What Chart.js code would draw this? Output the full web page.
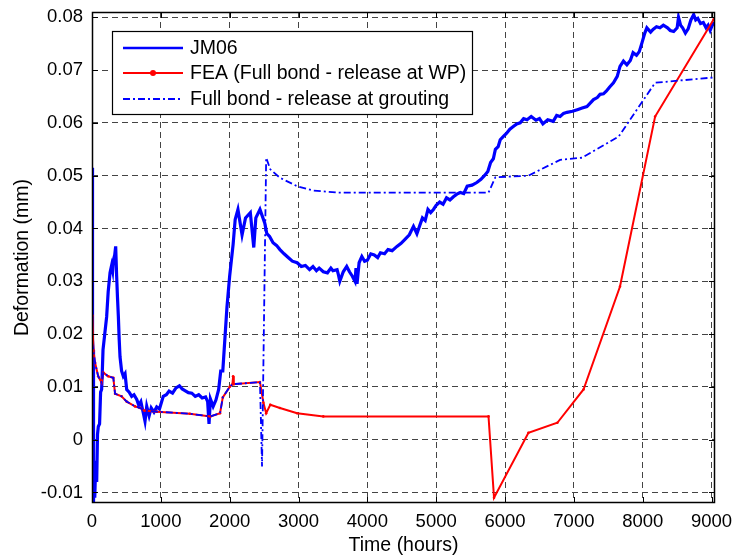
<!DOCTYPE html>
<html>
<head>
<meta charset="utf-8">
<script src="https://cdn.jsdelivr.net/npm/chart.js@4.4.0/dist/chart.umd.min.js"></script>
<style>body{margin:0;background:#fff}</style>
</head>
<body>
<canvas id="chart" width="732" height="557"></canvas>
<script>
const xTicks = [0, 1000, 2000, 3000, 4000, 5000, 6000, 7000, 8000, 9000];
const yTicks = [-0.01, 0, 0.01, 0.02, 0.03, 0.04, 0.05, 0.06, 0.07, 0.08];
const yTickLabels = ['-0.01', '0', '0.01', '0.02', '0.03', '0.04', '0.05', '0.06', '0.07', '0.08'];
const seriesNames = ['JM06', 'FEA (Full bond - release at WP)', 'Full bond - release at grouting'];

const jmHours = [0, 5, 10, 15, 22, 30, 40, 55, 68, 80, 92, 110, 125, 140, 150, 160, 185, 213, 235, 262, 285, 300, 310, 330, 344, 358, 370, 383, 395, 407, 430, 455, 480, 504, 540, 577, 610, 650, 680, 710, 746, 770, 795, 830, 860, 900, 940, 980, 1035, 1080, 1120, 1170, 1220, 1270, 1310, 1350, 1400, 1450, 1500, 1550, 1600, 1650, 1680, 1700, 1720, 1760, 1800, 1840, 1870, 1900, 1960, 2000, 2050, 2080, 2120, 2180, 2230, 2300, 2350, 2380, 2440, 2510, 2540, 2580, 2630, 2680, 2730, 2790, 2850, 2910, 2980, 3040, 3100, 3160, 3210, 3260, 3300, 3360, 3420, 3470, 3500, 3560, 3580, 3600, 3650, 3700, 3740, 3780, 3820, 3835, 3850, 3880, 3920, 3960, 4000, 4050, 4100, 4150, 4190, 4250, 4300, 4360, 4430, 4490, 4550, 4610, 4670, 4720, 4760, 4800, 4840, 4880, 4920, 4960, 5000, 5050, 5100, 5150, 5200, 5250, 5300, 5350, 5400, 5450, 5520, 5590, 5650, 5700, 5750, 5790, 5830, 5860, 5900, 5930, 5980, 6020, 6070, 6120, 6170, 6220, 6270, 6320, 6380, 6450, 6500, 6550, 6620, 6700, 6750, 6800, 6850, 6900, 6980, 7050, 7120, 7190, 7285, 7340, 7380, 7430, 7470, 7520, 7575, 7630, 7670, 7720, 7770, 7820, 7860, 7910, 7950, 7990, 8030, 8060, 8115, 8150, 8200, 8250, 8300, 8360, 8400, 8450, 8500, 8520, 8550, 8580, 8620, 8660, 8700, 8740, 8770, 8800, 8840, 8880, 8920, 8950, 8980, 9010, 9040];
const jmDef = [0.0515, -0.012, 0.019, 0.017, -0.012, -0.005, -0.011, -0.004, -0.008, 0.001, 0.0025, 0.003, 0.009, 0.0095, 0.013, 0.017, 0.020, 0.0233, 0.028, 0.0316, 0.033, 0.032, 0.034, 0.035, 0.0366, 0.031, 0.027, 0.0233, 0.019, 0.0157, 0.013, 0.012, 0.0125, 0.0095, 0.009, 0.0082, 0.0085, 0.0076, 0.0065, 0.0072, 0.005, 0.0035, 0.0063, 0.0045, 0.006, 0.0052, 0.0062, 0.0058, 0.0082, 0.0085, 0.0092, 0.0088, 0.0098, 0.0102, 0.0096, 0.0093, 0.0089, 0.0088, 0.0082, 0.0085, 0.0079, 0.0081, 0.0072, 0.003, 0.0077, 0.0063, 0.0075, 0.0095, 0.013, 0.013, 0.025, 0.031, 0.037, 0.0417, 0.0436, 0.0388, 0.042, 0.043, 0.0364, 0.042, 0.0436, 0.041, 0.039, 0.0385, 0.0373, 0.0368, 0.036, 0.0352, 0.0345, 0.0338, 0.0335, 0.0328, 0.033, 0.0322, 0.0328, 0.032, 0.0325, 0.0318, 0.0316, 0.0325, 0.032, 0.0322, 0.0312, 0.030, 0.0318, 0.0328, 0.0318, 0.031, 0.030, 0.0325, 0.0295, 0.0335, 0.0347, 0.0338, 0.034, 0.0352, 0.035, 0.0345, 0.0354, 0.0352, 0.036, 0.0358, 0.0366, 0.0372, 0.038, 0.0388, 0.0404, 0.039, 0.0405, 0.042, 0.0415, 0.0436, 0.043, 0.0436, 0.0444, 0.045, 0.0446, 0.0458, 0.0454, 0.046, 0.0465, 0.0468, 0.0466, 0.048, 0.0482, 0.0487, 0.0493, 0.050, 0.0508, 0.0525, 0.0532, 0.055, 0.0555, 0.0568, 0.0575, 0.058, 0.0588, 0.0593, 0.0598, 0.060, 0.0608, 0.0606, 0.0612, 0.0605, 0.0608, 0.0598, 0.0606, 0.0603, 0.0614, 0.0612, 0.0618, 0.062, 0.0622, 0.0625, 0.0628, 0.0631, 0.0644, 0.0648, 0.0654, 0.0655, 0.066, 0.0668, 0.0676, 0.0688, 0.0707, 0.0717, 0.071, 0.0718, 0.0733, 0.0728, 0.0735, 0.0752, 0.077, 0.078, 0.0772, 0.0777, 0.0782, 0.078, 0.0785, 0.078, 0.0775, 0.0773, 0.078, 0.080, 0.0785, 0.078, 0.077, 0.0778, 0.0795, 0.0805, 0.0795, 0.0798, 0.0788, 0.079, 0.078, 0.0785, 0.0775, 0.0785, 0.079];

// FEA, full bond - release at WP
const feaHours = [0, 5, 20, 44, 90, 140, 165, 235, 310, 335, 430, 504, 625, 700, 760, 940, 1420, 1720, 1860, 1900, 2000, 2040, 2050, 2060, 2440, 2490, 2530, 2590, 2730, 2980, 3360, 5760, 5840, 6340, 6760, 7140, 7670, 8180, 9030];
const feaDef = [0.0184, 0.0235, 0.017, 0.0146, 0.012, 0.0108, 0.0127, 0.012, 0.0117, 0.0087, 0.0082, 0.0072, 0.0063, 0.006, 0.0055, 0.0053, 0.0049, 0.0044, 0.005, 0.008, 0.010, 0.0105, 0.012, 0.0105, 0.0109, 0.007, 0.005, 0.0066, 0.006, 0.005, 0.0044, 0.0044, -0.011, 0.0013, 0.0032, 0.0095, 0.029, 0.0612, 0.0796];

// Full bond - release at grouting
const groutHours = [0, 20, 44, 90, 140, 165, 235, 310, 335, 430, 504, 625, 700, 760, 940, 1420, 1720, 1860, 1900, 2000, 2040, 2440, 2470, 2530, 2590, 2730, 2980, 3210, 3560, 5760, 5860, 6340, 6800, 7120, 7650, 8180, 9030];
const groutDef = [0.0184, 0.017, 0.0146, 0.012, 0.0108, 0.0127, 0.012, 0.0117, 0.0087, 0.0082, 0.0072, 0.0063, 0.006, 0.0055, 0.0053, 0.0049, 0.0044, 0.005, 0.008, 0.010, 0.0105, 0.0109, -0.0051, 0.0534, 0.0512, 0.0496, 0.048, 0.0472, 0.0468, 0.0468, 0.0497, 0.050, 0.053, 0.0534, 0.0574, 0.0676, 0.0686];

const pts = (xs, ys) => xs.map((x, i) => ({ x: x, y: ys[i] }));
const FONT = '"Liberation Sans", Arial, sans-serif';

const framePlugin = {
    id: 'frame',
    afterDraw(chart) {
        const ctx = chart.ctx;
        const a = chart.chartArea;
        const xs = chart.scales.x, ys = chart.scales.y;
        ctx.save();
        ctx.strokeStyle = '#000';
        ctx.lineWidth = 1;
        ctx.beginPath();
        xTicks.forEach(v => {
            const p = Math.round(xs.getPixelForValue(v)) + 0.5;
            ctx.moveTo(p, a.bottom); ctx.lineTo(p, a.bottom - 6);
            ctx.moveTo(p, a.top); ctx.lineTo(p, a.top + 6);
        });
        yTicks.forEach(v => {
            const p = Math.round(ys.getPixelForValue(v)) + 0.5;
            ctx.moveTo(a.left, p); ctx.lineTo(a.left + 6, p);
            ctx.moveTo(a.right, p); ctx.lineTo(a.right - 6, p);
        });
        ctx.stroke();
        ctx.lineWidth = 1.5;
        ctx.strokeRect(a.left + 0.5, a.top + 0.5, a.right - a.left - 1, a.bottom - a.top - 1);

        // legend box
        const bx = 112, by = 31, bw = 361, bh = 84;
        ctx.lineWidth = 1.2;
        ctx.fillStyle = '#fff';
        ctx.fillRect(bx, by, bw, bh);
        ctx.strokeRect(bx + 0.5, by + 0.5, bw - 1, bh - 1);
        const rows = [48, 73, 99];
        const styles = [
            { c: '#0000ff', w: 2.5, d: [] },
            { c: '#ff0000', w: 2, d: [] },
            { c: '#0000ff', w: 1.8, d: [7, 3, 2, 3] }
        ];
        rows.forEach((ry, i) => {
            ctx.strokeStyle = styles[i].c;
            ctx.lineWidth = styles[i].w;
            ctx.setLineDash(styles[i].d);
            ctx.beginPath();
            ctx.moveTo(123, ry); ctx.lineTo(183, ry);
            ctx.stroke();
            ctx.setLineDash([]);
            if (i === 1) {
                ctx.fillStyle = '#ff0000';
                ctx.beginPath(); ctx.arc(153, ry, 3, 0, Math.PI * 2); ctx.fill();
            }
            ctx.fillStyle = '#000';
            ctx.font = '19.5px ' + FONT;
            ctx.textBaseline = 'middle';
            ctx.fillText(seriesNames[i], 190, ry + 1);
        });
        ctx.restore();
    }
};

new Chart(document.getElementById('chart').getContext('2d'), {
    type: 'scatter',
    data: {
        datasets: [
            { label: seriesNames[0], data: pts(jmHours, jmDef), showLine: true, borderColor: '#0000ff', borderWidth: 3.2, pointRadius: 0, order: 3 },
            { label: seriesNames[1], data: pts(feaHours, feaDef), showLine: true, borderColor: '#ff0000', backgroundColor: '#ff0000', borderWidth: 2, pointRadius: 1.3, pointBorderWidth: 0, order: 2 },
            { label: seriesNames[2], data: pts(groutHours, groutDef), showLine: true, borderColor: '#0000ff', borderWidth: 1.8, borderDash: [7, 3, 2, 3], pointRadius: 0, order: 1 }
        ]
    },
    options: {
        responsive: false,
        animation: false,
        layout: { padding: { top: 12, right: 17, left: 0, bottom: 0 } },
        plugins: { legend: { display: false }, tooltip: { enabled: false } },
        scales: {
            x: {
                type: 'linear', min: 0, max: 9050,
                afterBuildTicks: s => { s.ticks = xTicks.map(v => ({ value: v })); },
                afterFit: s => { s.height = 54; s.paddingLeft = 0; s.paddingRight = 0; },
                ticks: { padding: 8, color: '#000', font: { family: FONT, size: 18.5 }, callback: v => String(v), maxRotation: 0 },
                grid: { color: '#444', lineWidth: 1, drawTicks: false },
                border: { display: false, dash: [6, 4] },
                title: { display: true, text: 'Time (hours)', color: '#000', font: { family: FONT, size: 19.5 }, padding: { top: 0, bottom: 0 } }
            },
            y: {
                type: 'linear', min: -0.012, max: 0.081,
                afterBuildTicks: s => { s.ticks = yTicks.map(v => ({ value: v })); },
                afterFit: s => { s.width = 92; s.paddingTop = 0; s.paddingBottom = 0; },
                ticks: { padding: 9, color: '#000', font: { family: FONT, size: 18.5 }, callback: (v) => yTickLabels[yTicks.findIndex(t => Math.abs(t - v) < 1e-9)] },
                grid: { color: '#444', lineWidth: 1, drawTicks: false },
                border: { display: false, dash: [6, 4] },
                title: { display: true, text: 'Deformation (mm)', color: '#000', font: { family: FONT, size: 19.5 }, padding: { top: 11, bottom: 0 } }
            }
        }
    },
    plugins: [framePlugin]
});
</script>
</body>
</html>
